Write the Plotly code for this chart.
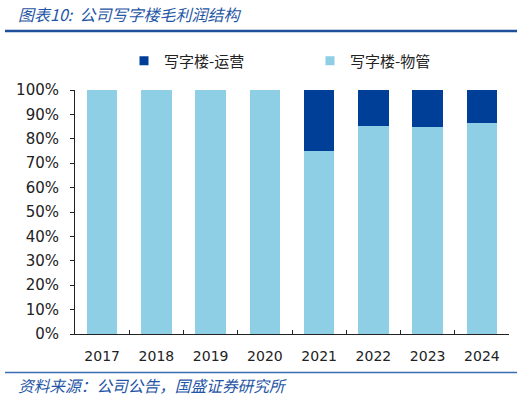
import plotly.graph_objects as go

years = ["2017", "2018", "2019", "2020", "2021", "2022", "2023", "2024"]
wuguan = [100, 100, 100, 100, 75.1, 85.1, 84.7, 86.6]
yunying = [0, 0, 0, 0, 24.9, 14.9, 15.3, 13.4]
y_ticks = [0, 10, 20, 30, 40, 50, 60, 70, 80, 90, 100]
y_labels = [f"{v}%" for v in y_ticks]
series_names = ["写字楼-运营", "写字楼-物管"]

DARK = "#003F98"
LIGHT = "#8ECFE6"
BLUE = "#1F56A5"

fig = go.Figure()
fig.add_trace(go.Bar(x=years, y=wuguan, name=series_names[1], showlegend=False,
                     marker=dict(color=LIGHT, line=dict(width=0))))
fig.add_trace(go.Bar(x=years, y=yunying, name=series_names[0], showlegend=False,
                     marker=dict(color=DARK, line=dict(width=0))))
# legend proxies (small square markers, as in the reference)
for nm, col in zip(series_names, [DARK, LIGHT]):
    fig.add_trace(go.Scatter(x=[None], y=[None], mode="markers", name=nm,
                             marker=dict(symbol="square", size=9, color=col)))

fig.update_layout(
    width=526, height=398,
    margin=dict(l=75, r=17, t=90, b=64, autoexpand=False),
    barmode="stack", bargap=0.44,
    plot_bgcolor="white", paper_bgcolor="white",
    showlegend=True,
    legend=dict(orientation="h", xref="container", yref="container",
                x=124 / 526, xanchor="left", y=1 - 61 / 398, yanchor="middle",
                traceorder="normal",
                entrywidth=141, entrywidthmode="pixels", itemwidth=30,
                font=dict(family="Noto Sans CJK SC", size=15, color="#222"),
                bgcolor="rgba(0,0,0,0)"),
    font=dict(family="DejaVu Sans", size=14, color="#222"),
)
fig.update_xaxes(type="category", showline=True, linecolor="#222", linewidth=1,
                 ticks="inside", tickson="boundaries", ticklen=4, tickcolor="#222",
                 ticklabelstandoff=9,
                 tickfont=dict(family="DejaVu Sans", size=14, color="#222"), showgrid=False,
                 automargin=False)
fig.update_yaxes(range=[0, 100], tickvals=y_ticks, ticktext=y_labels, showline=True,
                 linecolor="#222", linewidth=1, ticks="outside", ticklen=4, tickcolor="#222",
                 ticklabelstandoff=8,
                 showgrid=False, zeroline=False, automargin=False,
                 tickfont=dict(family="DejaVu Sans", size=15, color="#222"))

fig.add_annotation(text="<i>图表10:  公司写字楼毛利润结构</i>", xref="paper", yref="paper",
                   x=(16 - 75) / 434, y=(334 - 14) / 244, xanchor="left", yanchor="middle",
                   showarrow=False, font=dict(family="Noto Sans CJK SC", size=16, color=BLUE))
fig.add_annotation(text="<i>资料来源：公司公告，国盛证券研究所</i>", xref="paper", yref="paper",
                   x=(16 - 75) / 434, y=(334 - 385) / 244, xanchor="left", yanchor="middle",
                   showarrow=False, font=dict(family="Noto Sans CJK SC", size=15.7, color=BLUE))
fig.add_shape(type="line", xref="paper", yref="paper", x0=(5 - 75) / 434, x1=(517 - 75) / 434,
              y0=(334 - 31) / 244, y1=(334 - 31) / 244, line=dict(color="#1F4E9A", width=2.5))
fig.add_shape(type="line", xref="paper", yref="paper", x0=(5 - 75) / 434, x1=(517 - 75) / 434,
              y0=(334 - 372.5) / 244, y1=(334 - 372.5) / 244, line=dict(color="#3A6DB5", width=1.5))

fig.write_html("out.html", config={"displayModeBar": False},
               post_script="document.body.style.margin='0';document.body.style.overflow='hidden';")
